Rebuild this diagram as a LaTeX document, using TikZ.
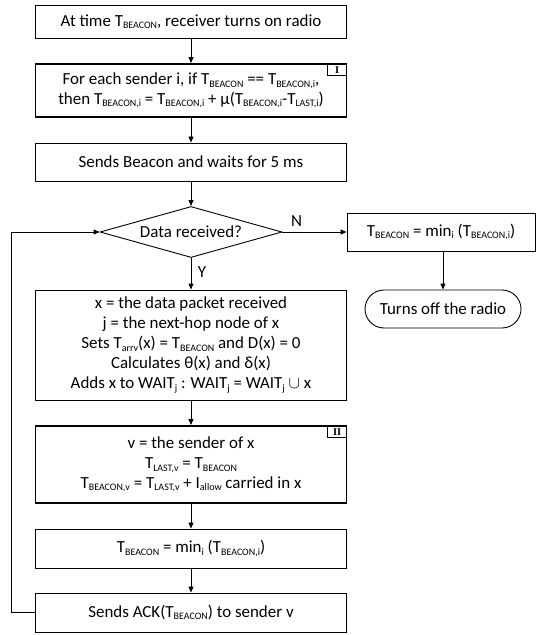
\documentclass[tikz,border=0pt]{standalone}
\usepackage{fontspec}
\setmainfont{Carlito}
\newfontfamily\tagfont{Liberation Serif}
\usetikzlibrary{arrows.meta,shapes.geometric}
% small lowered index text, as in T_BEACON
\newcommand\sbs[1]{\raisebox{-0.32ex}{\fontsize{10}{10}\selectfont #1}}

\begin{document}
\begin{tikzpicture}[x=1bp,y=-1bp,
  every node/.style={font=\fontsize{17}{20}\selectfont, text=black},
  proc/.style={draw, line width=0.9bp, rectangle, minimum width=311bp, align=center, inner sep=0pt},
  procthick/.style={proc, line width=1.9bp},
  decision/.style={draw, line width=0.9bp, diamond, aspect=3.57, minimum width=182bp, minimum height=51bp, inner sep=0pt},
  terminal/.style={draw, line width=0.9bp, rectangle, rounded corners=19bp, minimum width=156bp, minimum height=38bp, inner sep=0pt},
  tag/.style={draw, line width=1.6bp, rectangle, inner sep=0pt, minimum width=19bp, minimum height=11.5bp, font=\tagfont\bfseries\fontsize{10.5}{10.5}\selectfont},
  flow/.style={draw, line width=0.9bp, -{Triangle[length=6bp,width=5bp]}},
  edgelabel/.style={font=\fontsize{17}{20}\selectfont}
]
\useasboundingbox (0,0) rectangle (536,635);

% main column
\node[proc, minimum height=33bp] (b1) at (191,21.5)
  {At time T\sbs{BEACON}, receiver turns on radio};
\node[procthick, minimum height=53bp] (b2) at (191,90.5)
  {For each sender i, if T\sbs{BEACON} == T\sbs{BEACON,i},\\
   then T\sbs{BEACON,i} = T\sbs{BEACON,i} + µ(T\sbs{BEACON,i}-T\sbs{LAST,i})};
\node[tag, anchor=north east] (tagI) at (b2.north east) {I};
\node[proc, minimum height=38bp] (b3) at (191,162)
  {Sends Beacon and waits for 5 ms};
\node[decision] (dec) at (191,232) {Data received?};
\node[proc, minimum height=110bp] (b4) at (191,345)
  {x = the data packet received\\
   j = the next-hop node of x\\
   Sets T\sbs{arrv}(x) = T\sbs{BEACON} and D(x) = 0\\
   Calculates θ(x) and δ(x)\\
   Adds x to WAIT\sbs{j} : WAIT\sbs{j} = WAIT\sbs{j} $\cup$ x};
\node[procthick, minimum height=77bp] (b5) at (191,464.5)
  {v = the sender of x\\
   T\sbs{LAST,v} = T\sbs{BEACON}\\
   T\sbs{BEACON,v} = T\sbs{LAST,v} + I\sbs{allow} carried in x};
\node[tag, anchor=north east] (tagII) at (b5.north east) {II};
\node[proc, minimum height=39bp] (b6) at (191,548.5)
  {T\sbs{BEACON} = min\sbs{i} (T\sbs{BEACON,i})};
\node[proc, minimum height=39bp] (b7) at (191,612.5)
  {Sends ACK(T\sbs{BEACON}) to sender v};

% right branch
\node[proc, minimum width=188bp, minimum height=38bp] (r1) at (441,232)
  {T\sbs{BEACON} = min\sbs{i} (T\sbs{BEACON,i})};
\node[terminal] (off) at (443,309) {Turns off the radio};

% connectors
\draw[flow] (b1) -- (b2);
\draw[flow] (b2) -- (b3);
\draw[flow] (b3) -- (dec);
\draw[flow] (dec) -- node[edgelabel, pos=0.45, anchor=west, xshift=3bp] {Y} (b4);
\draw[flow] (dec) -- node[edgelabel, pos=0.22, anchor=south, yshift=2bp] {N} (r1);
\draw[flow] (r1.south -| off.north) -- (off);
\draw[flow] (b4) -- (b5);
\draw[flow] (b5) -- (b6);
\draw[flow] (b6) -- (b7);
\coordinate (loop) at (11,612.5);
\draw[flow] (b7.west) -- (loop) |- (dec.west);
\end{tikzpicture}
\end{document}
